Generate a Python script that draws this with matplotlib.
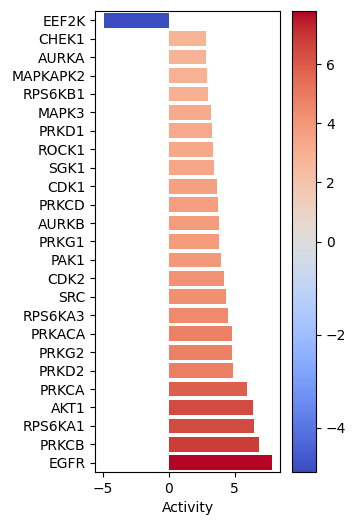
import numpy as np
import matplotlib
matplotlib.use('Agg')
import matplotlib.pyplot as plt
from matplotlib import colors, cm

# Kinase activity scores, top to bottom as shown
kinases = ['EEF2K', 'CHEK1', 'AURKA', 'MAPKAPK2', 'RPS6KB1', 'MAPK3', 'PRKD1',
           'ROCK1', 'SGK1', 'CDK1', 'PRKCD', 'AURKB', 'PRKG1', 'PAK1', 'CDK2',
           'SRC', 'RPS6KA3', 'PRKACA', 'PRKG2', 'PRKD2', 'PRKCA', 'AKT1',
           'RPS6KA1', 'PRKCB', 'EGFR']
activity = [-4.95, 2.80, 2.85, 2.87, 2.95, 3.18, 3.25, 3.33, 3.40, 3.63, 3.70,
            3.78, 3.79, 3.93, 4.17, 4.32, 4.47, 4.76, 4.77, 4.85, 5.90, 6.42,
            6.43, 6.80, 7.80]

vals = np.array(activity)
norm = colors.TwoSlopeNorm(vmin=vals.min(), vcenter=0, vmax=vals.max())
cmap = plt.get_cmap('coolwarm')

fig = plt.figure(figsize=(3.55, 5.25), dpi=100)
ax = fig.add_axes([0.268, 0.101, 0.521, 0.878])
cax = fig.add_axes([0.823, 0.101, 0.068, 0.878])

y = np.arange(len(kinases))
ax.barh(y, vals, color=cmap(norm(vals)))
ax.set_yticks(y)
ax.set_yticklabels(kinases)
ax.set_ylim(len(kinases) - 0.5, -0.5)
ax.set_xlabel('Activity')

sm = cm.ScalarMappable(norm=norm, cmap=cmap)
fig.colorbar(sm, cax=cax)

fig.savefig('out.png', dpi=100)
